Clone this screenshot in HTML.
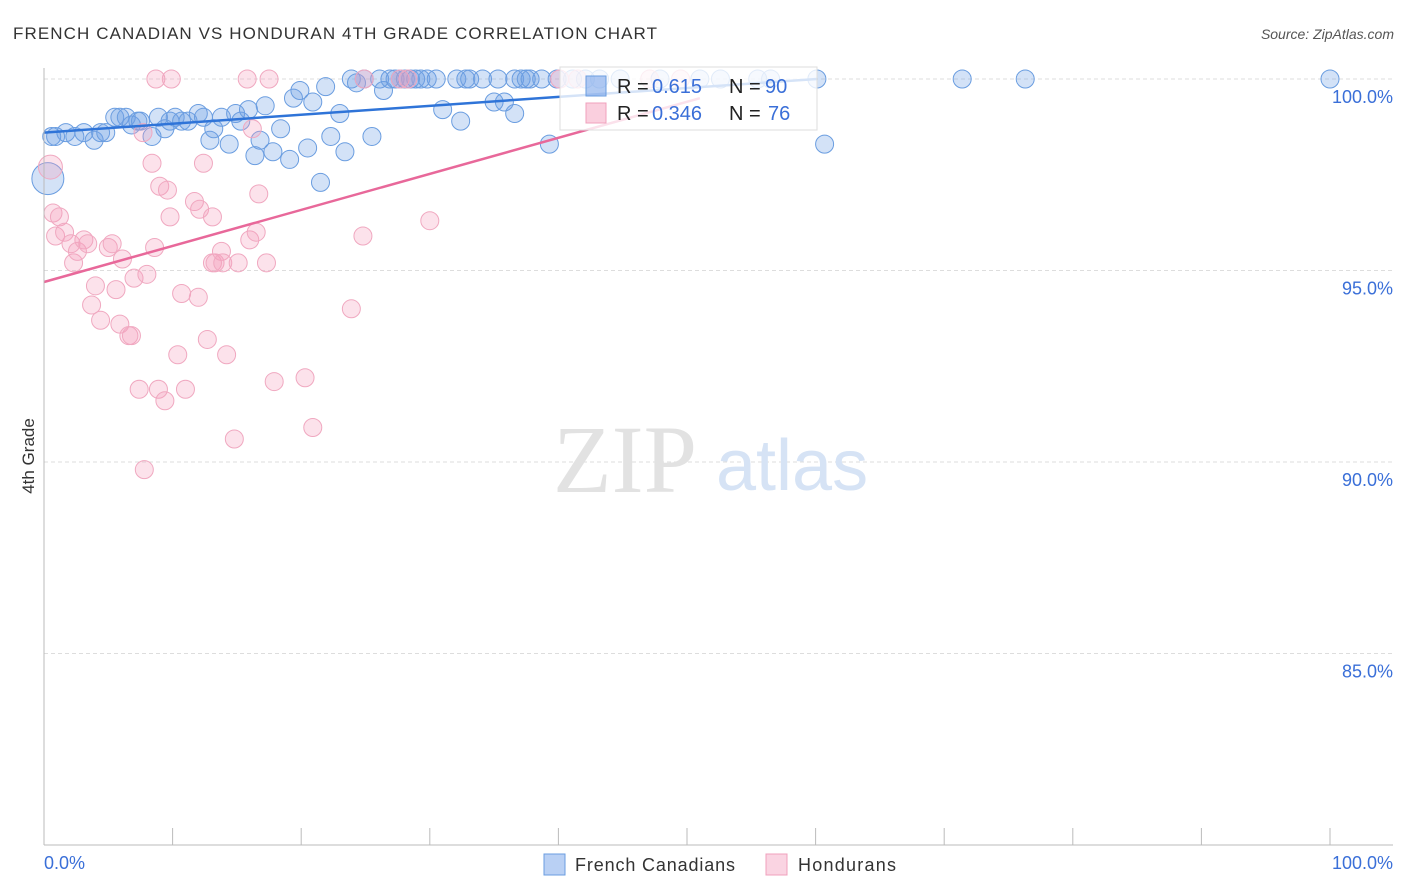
<!DOCTYPE html>
<html><head><meta charset="utf-8"><style>
body{margin:0;background:#fff;width:1406px;height:892px;overflow:hidden;font-family:"Liberation Sans",sans-serif}
svg{position:absolute;left:0;top:0}
</style></head><body>
<svg width="1406" height="892">
<text x="13" y="39" font-size="17" fill="#333" textLength="644">FRENCH CANADIAN VS HONDURAN 4TH GRADE CORRELATION CHART</text>
<text x="1394" y="39" font-size="14" fill="#555" font-style="italic" text-anchor="end">Source: ZipAtlas.com</text>
<g id="grid"></g>
<g>
<text x="553" y="492" font-size="96" fill="#e2e2e2" font-family="Liberation Serif,serif">ZIP</text>
<text x="716" y="490" font-size="72" fill="#d6e3f5">atlas</text>
</g>
<g id="pts"></g>
<g id="lines"></g>
<line x1="44" y1="68" x2="44" y2="845" stroke="#bbb"/>
<line x1="44" y1="845" x2="1393" y2="845" stroke="#bbb"/>
<text transform="translate(34,456) rotate(-90)" font-size="17" fill="#333" text-anchor="middle">4th Grade</text>
<text x="44" y="869" font-size="18" fill="#3a6fd8">0.0%</text>
<text x="1393" y="869" font-size="18" fill="#3a6fd8" text-anchor="end">100.0%</text>
<g>
<rect x="560" y="67" width="257" height="63" fill="rgba(255,255,255,0.8)" stroke="#ddd"/>
<rect x="586" y="76" width="20" height="20" fill="rgba(100,150,230,0.5)" stroke="#6a9de0"/>
<rect x="586" y="103" width="20" height="20" fill="rgba(245,160,190,0.5)" stroke="#f0a0bc"/>
<text x="617" y="93" font-size="20" fill="#222">R = <tspan x="652" fill="#3a6fd8">0.615</tspan><tspan x="729">N = </tspan><tspan x="765" fill="#3a6fd8">90</tspan></text>
<text x="617" y="120" font-size="20" fill="#222">R = <tspan x="652" fill="#3a6fd8">0.346</tspan><tspan x="729">N = </tspan><tspan x="768" fill="#3a6fd8">76</tspan></text>
</g>
<g>
<rect x="544" y="854" width="21" height="21" fill="rgba(100,150,230,0.45)" stroke="#6a9de0"/>
<text x="575" y="871" font-size="18" fill="#333" textLength="160">French Canadians</text>
<rect x="766" y="854" width="21" height="21" fill="rgba(245,160,190,0.45)" stroke="#f0a0bc"/>
<text x="798" y="871" font-size="18" fill="#333" textLength="98">Hondurans</text>
</g>
</svg>
<script>
const yTicks=[100,95,90,85];
const xTicks=[0,10,20,30,40,50,60,70,80,90,100];
const blueX=[0.9,0.6,1.7,2.4,3.1,3.9,4.4,4.8,5.5,5.9,6.4,6.8,7.3,7.5,8.4,8.9,9.4,9.8,10.2,10.7,11.2,12,12.4,12.9,13.2,13.8,14.4,14.9,15.3,15.9,16.4,16.8,17.2,17.8,18.4,19.1,19.4,19.9,20.5,20.9,21.5,21.9,22.3,23,23.4,23.9,24.3,24.9,25.5,26.1,26.4,26.9,27.3,27.7,28.1,28.5,28.9,29.3,29.8,30.5,31,32.1,32.4,32.8,33.1,34.1,35,35.3,35.8,36.6,36.6,37.1,37.5,37.8,38.7,39.3,39.9,41.1,42.1,43.2,44.8,47.9,51,52.6,55.5,56.5,60.1,60.7,71.4,76.3,100,0.3];
const blueY=[98.5,98.5,98.6,98.5,98.6,98.4,98.6,98.6,99,99,99,98.8,98.9,98.9,98.5,99,98.7,98.9,99,98.9,98.9,99.1,99,98.4,98.7,99,98.3,99.1,98.9,99.2,98,98.4,99.3,98.1,98.7,97.9,99.5,99.7,98.2,99.4,97.3,99.8,98.5,99.1,98.1,100,99.9,100,98.5,100,99.7,100,100,100,100,100,100,100,100,100,99.2,100,98.9,100,100,100,99.4,100,99.4,99.1,100,100,100,100,100,98.3,100,100,100,100,100,100,100,100,100,100,100,98.3,100,100,100,97.4];
const pinkX=[8.7,9.9,15.8,17.5,24.9,27.7,28.3,40.1,41.5,47.1,49.5,0.5,0.7,1.2,0.9,1.6,2.1,2.3,2.6,3.1,3.4,4,3.7,4.4,5,5.3,5.6,5.9,6.1,6.6,6.8,7,7.4,7.7,8,8.4,8.6,8.9,9.4,9.0,9.6,9.8,10.4,10.7,11,11.7,12,12.1,12.4,12.7,13.1,13.1,13.3,13.8,13.9,14.2,14.8,15.1,16,16.2,16.5,16.7,17.3,17.9,20.3,20.9,23.9,24.8,30,7.8];
const pinkY=[100,100,100,100,100,100,100,100,100,100,100,97.7,96.5,96.4,95.9,96,95.7,95.2,95.5,95.8,95.7,94.6,94.1,93.7,95.6,95.7,94.5,93.6,95.3,93.3,93.3,94.8,91.9,98.6,94.9,97.8,95.6,91.9,91.6,97.2,97.1,96.4,92.8,94.4,91.9,96.8,94.3,96.6,97.8,93.2,96.4,95.2,95.2,95.5,95.2,92.8,90.6,95.2,95.8,98.7,96,97,95.2,92.1,92.2,90.9,94,95.9,96.3,89.8];
const blueLine=[[0,98.6],[60.1,100]];
const pinkLine=[[0,94.7],[51,99.5]];
const sx=v=>44+v*12.86, sy=v=>79+(100-v)*38.3;
const NS='http://www.w3.org/2000/svg';
const grid=document.getElementById('grid');
yTicks.forEach(t=>{
 const l=document.createElementNS(NS,'line');
 
 
 l.setAttribute('x1',44);l.setAttribute('x2',1393);l.setAttribute('y1',sy(t));l.setAttribute('y2',sy(t));
 l.setAttribute('stroke','#ddd');l.setAttribute('stroke-dasharray','4,3');grid.appendChild(l);
 const tx=document.createElementNS(NS,'text');
 
 
 tx.setAttribute('x',1393);tx.setAttribute('y',sy(t)+24);tx.setAttribute('text-anchor','end');
 tx.setAttribute('font-size','18');tx.setAttribute('fill','#3a6fd8');tx.textContent=t.toFixed(1)+'%';grid.appendChild(tx);
});
xTicks.forEach(t=>{
 const l=document.createElementNS(NS,'line');
 
 
 l.setAttribute('x1',sx(t));l.setAttribute('x2',sx(t));l.setAttribute('y1',828);l.setAttribute('y2',845);
 l.setAttribute('stroke','#bbb');grid.appendChild(l);
});
const pts=document.getElementById('pts');
function dot(x,y,r,fill,stroke,name){
 const c=document.createElementNS(NS,'circle');
 
 
 c.setAttribute('cx',sx(x));c.setAttribute('cy',sy(y));c.setAttribute('r',r);
 c.setAttribute('fill',fill);c.setAttribute('stroke',stroke);pts.appendChild(c);
}
blueX.forEach((x,i)=>dot(x,blueY[i],i==blueX.length-1?16:9,'rgba(110,160,230,0.3)','#6a9de0','french-canadian-point'));
pinkX.forEach((x,i)=>dot(x,pinkY[i],i==11?12:9,'rgba(245,160,190,0.3)','#f0a8c0','honduran-point'));
const lines=document.getElementById('lines');
[[blueLine,'#2f74d8','french-canadian-trendline'],[pinkLine,'#e8689a','honduran-trendline']].forEach(([ln,col,nm])=>{
 const l=document.createElementNS(NS,'line');
 
 
 l.setAttribute('x1',sx(ln[0][0]));l.setAttribute('y1',sy(ln[0][1]));l.setAttribute('x2',sx(ln[1][0]));l.setAttribute('y2',sy(ln[1][1]));
 l.setAttribute('stroke',col);l.setAttribute('stroke-width','2.5');lines.appendChild(l);
});
</script>
</body></html>
